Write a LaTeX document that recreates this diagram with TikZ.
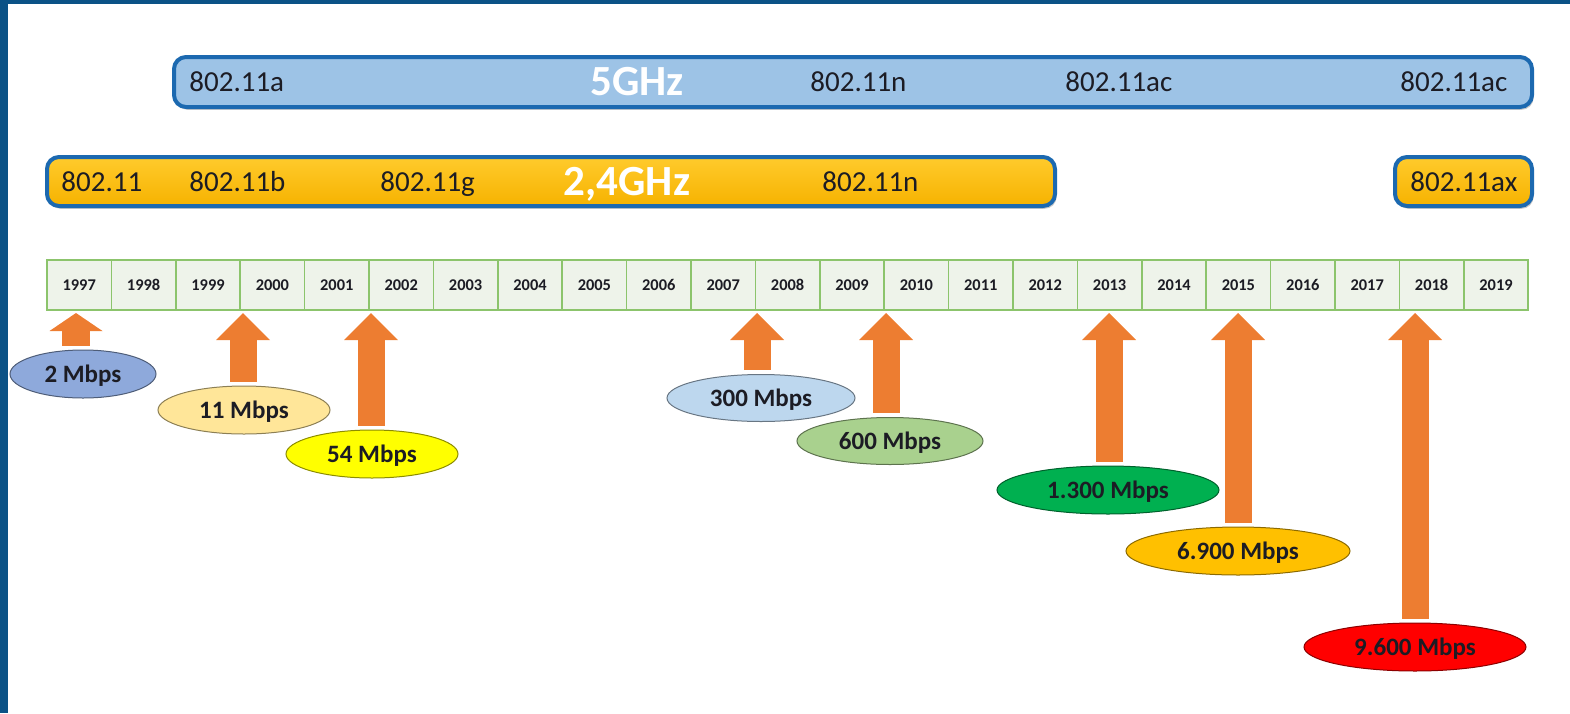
\documentclass[tikz,border=0pt]{standalone}
\usepackage{fontspec}
\setmainfont{Carlito}
\usetikzlibrary{arrows.meta,shapes.geometric,shadows}

\definecolor{framec}{HTML}{0B5286}
\definecolor{bandedge}{HTML}{1C69B0}
\definecolor{bandblue}{HTML}{9DC3E6}
\definecolor{bandtop}{HTML}{FFCB2C}
\definecolor{bandbot}{HTML}{F6B200}
\definecolor{cellfill}{HTML}{EEF3EA}
\definecolor{celledge}{HTML}{8CC46C}
\definecolor{arrowor}{HTML}{ED7D31}
\definecolor{inktext}{HTML}{1C1C24}
\definecolor{rateA}{HTML}{8EA9DB}
\definecolor{rateB}{HTML}{FFE699}
\definecolor{rateC}{HTML}{FFFF00}
\definecolor{rateD}{HTML}{BDD7EE}
\definecolor{rateE}{HTML}{A9D18E}
\definecolor{rateF}{HTML}{00B050}
\definecolor{rateG}{HTML}{FFC000}
\definecolor{rateH}{HTML}{FF0000}

\tikzset{
  band/.style={draw=bandedge, line width=2pt, rounded corners=6pt,
    drop shadow={shadow xshift=0.8pt, shadow yshift=-1.4pt, opacity=0.35, fill=black!60}},
  bandb/.style={band, fill=bandblue},
  bando/.style={band, top color=bandtop, bottom color=bandbot},
  stdlabel/.style={anchor=west, inner sep=0pt, text=inktext,
    font=\fontsize{14.5}{16}\selectfont, text height=9.3pt, text depth=0pt},
  bandtitle/.style={inner sep=0pt, text=white,
    font=\bfseries\fontsize{21.5}{24}\selectfont, text height=13.8pt, text depth=0pt},
  yearcell/.style={draw=celledge, fill=cellfill, line width=0.75pt,
    minimum width=32.2pt, minimum height=25pt, inner sep=0pt, outer sep=0pt,
    text=inktext, font=\bfseries\fontsize{8.2}{9}\selectfont},
  rate/.style={ellipse, fill=#1, draw=#1!55!black, line width=0.5pt, inner sep=0pt,
    text=inktext, font=\bfseries\fontsize{12.5}{14}\selectfont,
    text height=8pt, text depth=0pt},
  uparrow/.style={draw=arrowor, line width=13.5pt, line cap=butt, shorten <=2pt,
    -{Triangle[width=27pt,length=13.5pt,line width=0pt]}},
}

\begin{document}
\begin{tikzpicture}[x=0.5pt,y=-0.5pt]
\useasboundingbox (0,0) rectangle (1570,713);

% frame along the left and top edges
\fill[framec] (0,0) rectangle (8,713);
\fill[framec] (0,0) rectangle (1570,4);

% 5 GHz band
\path[bandb] (174,57) rectangle (1532,107);
\node[stdlabel] (a5) at (189,82) {802.11a};
\node[bandtitle] (g5) at (637,82) {5GHz};
\node[stdlabel] (n5) at (810,82) {802.11n};
\node[stdlabel] (ac1) at (1065,82) {802.11ac};
\node[stdlabel] (ac2) at (1400,82) {802.11ac};

% 2,4 GHz band
\path[bando] (47,157) rectangle (1055,206);
\node[stdlabel] (l80211) at (61,182) {802.11};
\node[stdlabel] (lb) at (189,182) {802.11b};
\node[stdlabel] (lg) at (380,182) {802.11g};
\node[bandtitle] (g24) at (627,182) {2,4GHz};
\node[stdlabel] (n24) at (822,182) {802.11n};
\path[bando] (1395,157) rectangle (1532,206);
\node[stdlabel] (lax) at (1410,182) {802.11ax};

% year timeline
\foreach \i in {0,...,22}{
  \pgfmathtruncatemacro\yr{1997+\i}
  \node[yearcell] (y\yr) at ({47+64.4*\i+32.2},285) {\yr};
}

% arrow tips below the timeline
\coordinate (t1) at (76,313);
\coordinate (t2) at (243,313);
\coordinate (t3) at (371,313);
\coordinate (t4) at (757,313);
\coordinate (t5) at (886,313);
\coordinate (t6) at (1109,313);
\coordinate (t7) at (1238,313);
\coordinate (t8) at (1415,313);

% data rates
\node[rate=rateA, minimum width=73pt, minimum height=24pt] (r1) at (83,374) {2 Mbps};
\node[rate=rateB, minimum width=86pt, minimum height=24pt] (r2) at (244,410) {11 Mbps};
\node[rate=rateC, minimum width=86pt, minimum height=24pt] (r3) at (372,454) {54 Mbps};
\node[rate=rateD, minimum width=94pt, minimum height=23.5pt] (r4) at (761,398) {300 Mbps};
\node[rate=rateE, minimum width=93pt, minimum height=23.5pt] (r5) at (890,441) {600 Mbps};
\node[rate=rateF, minimum width=111pt, minimum height=24pt] (r6) at (1108,490) {1.300 Mbps};
\node[rate=rateG, minimum width=112pt, minimum height=24pt] (r7) at (1238,551) {6.900 Mbps};
\node[rate=rateH, minimum width=111pt, minimum height=24pt] (r8) at (1415,647) {9.600 Mbps};

% block arrows from each rate up to its year
\draw[uparrow, line width=14pt, -{Triangle[width=26.5pt,length=9pt,line width=0pt]}] (t1 |- r1.north) -- (t1);
\draw[uparrow] (t2 |- r2.north) -- (t2);
\draw[uparrow] (t3 |- r3.north) -- (t3);
\draw[uparrow] (t4 |- r4.north) -- (t4);
\draw[uparrow] (t5 |- r5.north) -- (t5);
\draw[uparrow] (t6 |- r6.north) -- (t6);
\draw[uparrow] (t7 |- r7.north) -- (t7);
\draw[uparrow] (t8 |- r8.north) -- (t8);
\end{tikzpicture}
\end{document}
